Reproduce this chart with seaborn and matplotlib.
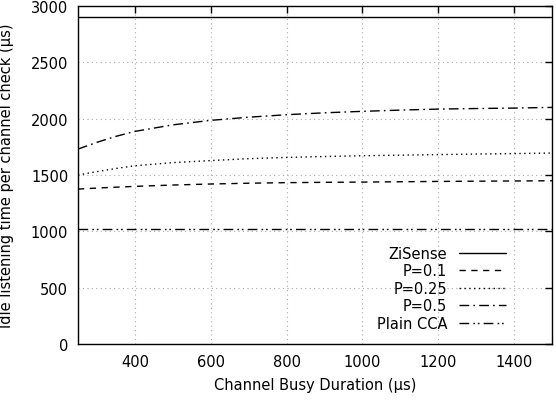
import numpy as np
import pandas as pd
import matplotlib
matplotlib.use("Agg")
import matplotlib.pyplot as plt
import seaborn as sns

busy = [250, 300, 350, 400, 500, 600, 700, 800, 900, 1000, 1100, 1200, 1300, 1400, 1500]
zisense = [2900] * len(busy)
p01 = [1375, 1384, 1392, 1399, 1411, 1420, 1427, 1432, 1435, 1437, 1440, 1443, 1445, 1447, 1449]
p025 = [1500, 1530, 1558, 1582, 1610, 1628, 1645, 1656, 1664, 1671, 1676, 1681, 1686, 1690, 1695]
p05 = [1730, 1790, 1843, 1887, 1945, 1985, 2013, 2035, 2052, 2065, 2076, 2085, 2090, 2094, 2100]
plain_cca = [1020] * len(busy)
series_names = ["ZiSense", "P=0.1", "P=0.25", "P=0.5", "Plain CCA"]
xticks = [400, 600, 800, 1000, 1200, 1400]
yticks = [0, 500, 1000, 1500, 2000, 2500, 3000]

frames = []
for name, vals in zip(series_names, [zisense, p01, p025, p05, plain_cca]):
    frames.append(pd.DataFrame({"busy": busy, "idle": vals, "series": name}))
df = pd.concat(frames, ignore_index=True)

sns.set_style("white")
plt.rcParams["font.family"] = ["DejaVu Sans"]
plt.rcParams["text.color"] = "black"
plt.rcParams["axes.labelcolor"] = "black"
plt.rcParams["xtick.color"] = "black"
plt.rcParams["ytick.color"] = "black"

fig = plt.figure(figsize=(5.56, 4.02), dpi=100)
ax = fig.add_axes([78 / 556, 1 - 345 / 402, (552 - 78) / 556, (345 - 7) / 402])

dashes = {
    "ZiSense": "",
    "P=0.1": (4.5, 4),
    "P=0.25": (1, 2.5),
    "P=0.5": (7, 3, 1.2, 3),
    "Plain CCA": (7, 3, 1.2, 2, 1.2, 3),
}
sns.lineplot(data=df, x="busy", y="idle", style="series", style_order=series_names,
             dashes=dashes, color="black", linewidth=1.0, ax=ax)

ax.set_xlim(250, 1500)
ax.set_ylim(0, 3000)
ax.set_xticks(xticks)
ax.set_yticks(yticks)
ax.grid(True, linestyle=(0, (1, 3)), color="#aaaaaa", linewidth=0.8)
for s in ax.spines.values():
    s.set_color("black")
    s.set_linewidth(1.0)
ax.tick_params(direction="in", length=5, width=1, top=True, right=True,
               labelsize=10.5, colors="black", pad=7)
ax.set_xlabel("Channel Busy Duration (µs)", fontsize=10.5, labelpad=6, color="black")
ax.set_ylabel("Idle listening time per channel check (µs)", fontsize=10.5,
              labelpad=12, color="black")

handles, labels = ax.get_legend_handles_labels()
leg = ax.legend(handles, labels, loc="lower right", bbox_to_anchor=(0.93, 0.0),
                frameon=False, markerfirst=False, fontsize=10.5, handlelength=3.2,
                labelspacing=0.17, handletextpad=0.8)
for t in leg.get_texts():
    t.set_color("black")

fig.savefig("out.png", dpi=100)
